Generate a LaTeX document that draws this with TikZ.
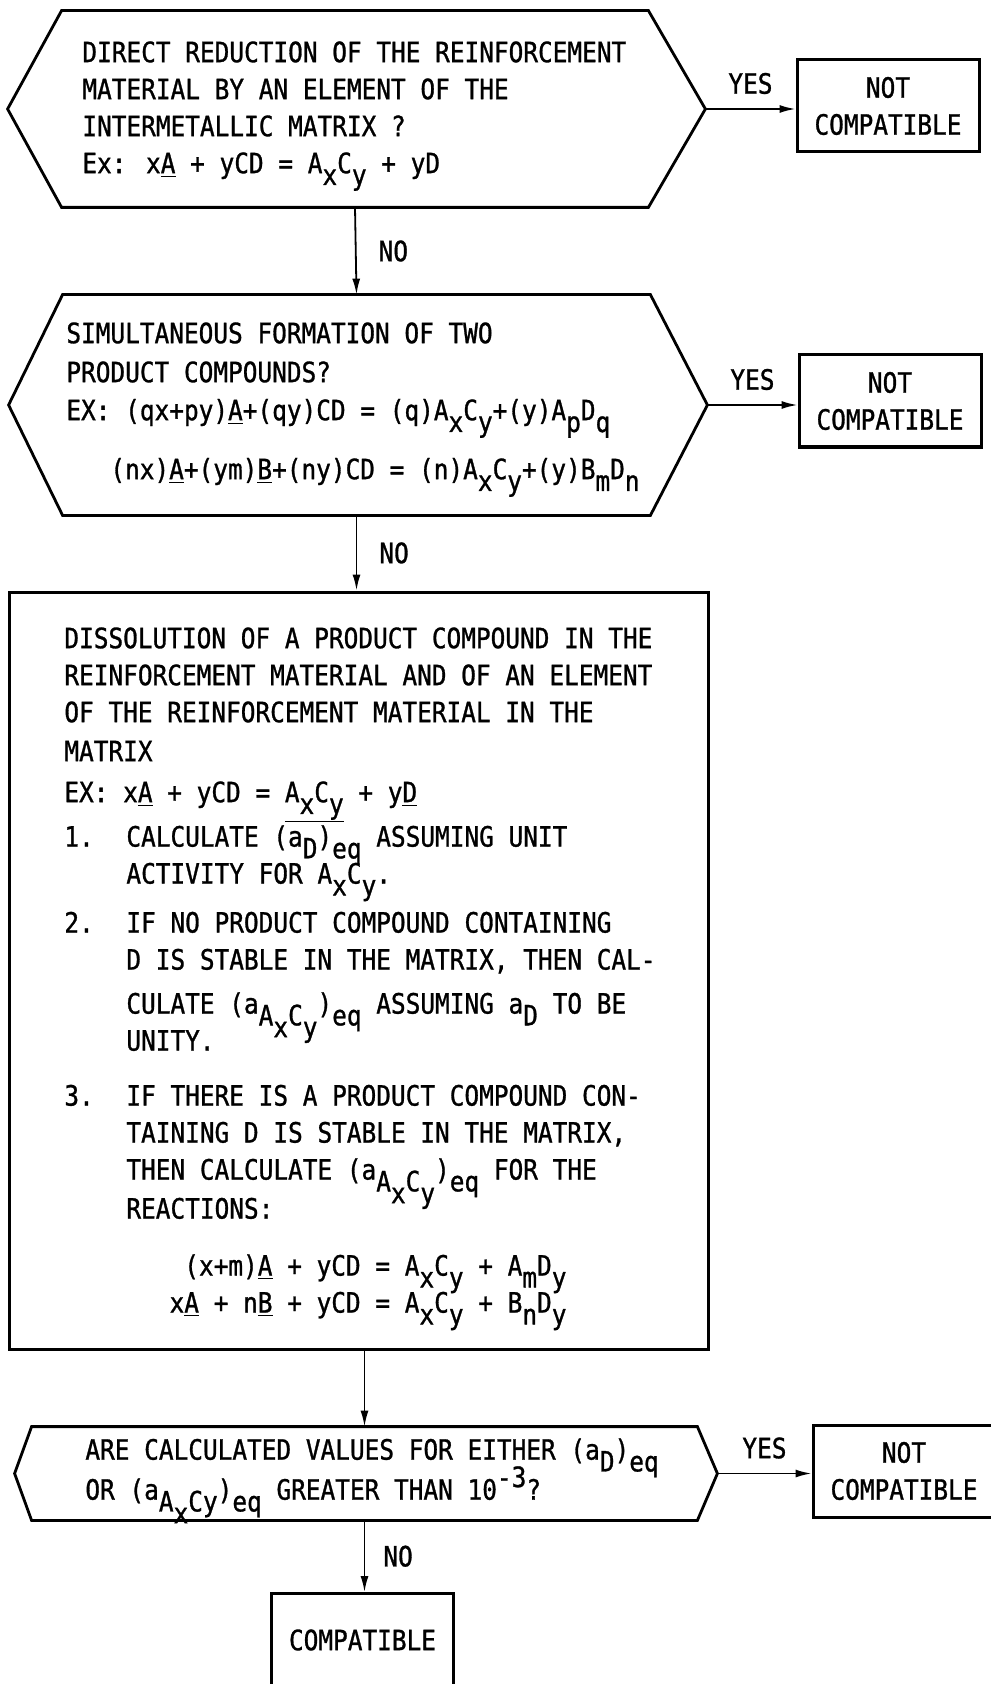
\documentclass[tikz,border=0pt]{standalone}
\usepackage{fontspec}
\setmainfont{DejaVu Sans Mono}[FakeStretch=0.872, FakeBold=1]
\usetikzlibrary{arrows.meta,calc,positioning}

% typewriter style sub/superscripts
\newcommand{\subl}[1]{\raisebox{-0.42em}[0pt][0pt]{#1}}
\newcommand{\supl}[1]{\raisebox{0.45em}[0pt][0pt]{#1}}
\newcommand{\und}[1]{\underline{#1}}
\newsavebox{\barbox}
\newcommand{\lowbar}[1]{\sbox{\barbox}{#1}\rlap{\raisebox{-0.72em}{\rule{\wd\barbox}{0.6pt}}}\usebox{\barbox}}

\begin{document}
\begin{tikzpicture}[x=0.5pt,y=-0.5pt,
  every node/.style={font=\fontsize{14}{18.5}\selectfont, inner sep=0pt},
  outcome/.style={draw, line width=1.5pt, minimum width=91pt, minimum height=46pt, align=center},
  flow/.style={line width=0.9pt, -{Latex[length=8pt,width=4pt]}},
  edge/.style={line width=1.4pt, line join=miter}]
  \useasboundingbox (0,0) rectangle (990,1684);

  % first question
  \node (q1) [minimum width=293pt, minimum height=98pt] at (355,109) {};
  \coordinate (q1l) at ($(q1.west)+(-54,0)$);
  \coordinate (q1r) at ($(q1.east)+(57,0)$);
  \draw[edge] (q1.north west) -- (q1.north east) -- (q1r) -- (q1.south east) -- (q1.south west) -- (q1l) -- cycle;
  \node (t1) [anchor=north west, align=left] at (82,41) {DIRECT REDUCTION OF THE REINFORCEMENT\\MATERIAL BY AN ELEMENT OF THE\\INTERMETALLIC MATRIX ?\\Ex: x\und{A} + yCD = A\subl{x}C\subl{y} + yD};
  \node (nc1) [outcome] at (888,106) {NOT\\COMPATIBLE};

  % second question
  \node (q2) [minimum width=293.5pt, minimum height=110pt] at (356.5,405) {};
  \coordinate (q2l) at ($(q2.west)+(-54,0)$);
  \coordinate (q2r) at ($(q2.east)+(57,0)$);
  \draw[edge] (q2.north west) -- (q2.north east) -- (q2r) -- (q2.south east) -- (q2.south west) -- (q2l) -- cycle;
  \node (t2) [anchor=north west, align=left] at (66,322) {SIMULTANEOUS FORMATION OF TWO\\[1pt]
    PRODUCT COMPOUNDS?\\[0.5pt]
    EX: (qx+py)\und{A}+(qy)CD = (q)A\subl{x}C\subl{y}+(y)A\subl{p}D\subl{q}\\[11pt]
    \hspace*{22pt}(nx)\und{A}+(ym)\und{B}+(ny)CD = (n)A\subl{x}C\subl{y}+(y)B\subl{m}D\subl{n}};
  \node (nc2) [outcome] at (890,401) {NOT\\COMPATIBLE};

  % dissolution box
  \node (b3) [draw, line width=1.5pt, minimum width=349.5pt, minimum height=378.5pt] at (358.5,970.5) {};
  \node (t3) [anchor=north west, align=left] at (64,627) {DISSOLUTION OF A PRODUCT COMPOUND IN THE\\
    REINFORCEMENT MATERIAL AND OF AN ELEMENT\\
    OF THE REINFORCEMENT MATERIAL IN THE\\[1pt]
    MATRIX\\[2pt]
    EX: x\und{A} + yCD = \lowbar{A\subl{x}C\subl{y}} + y\und{D}\\[0.5pt]
    \makebox[31pt][l]{1.}CALCULATE (a\subl{D})\subl{eq} ASSUMING UNIT\\
    \hspace*{31pt}ACTIVITY FOR A\subl{x}C\subl{y}.\\[6pt]
    \makebox[31pt][l]{2.}IF NO PRODUCT COMPOUND CONTAINING\\
    \hspace*{31pt}D IS STABLE IN THE MATRIX, THEN CAL-\\[3.5pt]
    \hspace*{31pt}CULATE (a\subl{A\subl{x}C\subl{y}})\subl{eq} ASSUMING a\subl{D} TO BE\\
    \hspace*{31pt}UNITY.\\[9pt]
    \makebox[31pt][l]{3.}IF THERE IS A PRODUCT COMPOUND CON-\\
    \hspace*{31pt}TAINING D IS STABLE IN THE MATRIX,\\
    \hspace*{31pt}THEN CALCULATE (a\subl{A\subl{x}C\subl{y}})\subl{eq} FOR THE\\[1pt]
    \hspace*{31pt}REACTIONS:\\[10pt]
    \hspace*{51.5pt}\makebox[104pt][r]{(x+m)\und{A} + yCD }= A\subl{x}C\subl{y} + A\subl{m}D\subl{y}\\
    \hspace*{51.5pt}\makebox[104pt][r]{x\und{A} + n\und{B} + yCD }= A\subl{x}C\subl{y} + B\subl{n}D\subl{y}};

  % last question
  \node (q4) [minimum width=332.5pt, minimum height=46.5pt] at (364.5,1473.5) {};
  \coordinate (q4l) at ($(q4.west)+(-17,0)$);
  \coordinate (q4r) at ($(q4.east)+(20,0)$);
  \draw[edge] (q4.north west) -- (q4.north east) -- (q4r) -- (q4.south east) -- (q4.south west) -- (q4l) -- cycle;
  \node (t4) [anchor=north west, align=left] at (85,1438) {ARE CALCULATED VALUES FOR EITHER (a\subl{D})\subl{eq}\\[1.5pt]
    OR (a\subl{A\subl{x}Cy})\subl{eq} GREATER THAN 10\supl{-3}?};
  \node (nc3) [outcome] at (904,1471) {NOT\\COMPATIBLE};
  \node (ok) [outcome, minimum height=46.5pt] at (362.5,1640) {COMPATIBLE};

  % connectors
  \draw[flow] (q1r) -- node[above=7pt] (yes1) {YES} (q1r -| nc1.west);
  \draw[flow] (q1.south) -- node[right=11pt] (no1) {NO} (q2.north);
  \draw[flow] (q2r) -- node[above=7pt] (yes2) {YES} (q2r -| nc2.west);
  \draw[flow] (q2.south) -- node[right=11pt] (no2) {NO} (q2.south |- b3.north);
  \draw[flow] (b3.south -| q4.north) -- (q4.north);
  \draw[flow] (q4r) -- node[above=7pt] (yes3) {YES} (q4r -| nc3.west);
  \draw[flow] (q4.south) -- node[right=9pt] (no3) {NO} (q4.south |- ok.north);
\end{tikzpicture}
\end{document}
